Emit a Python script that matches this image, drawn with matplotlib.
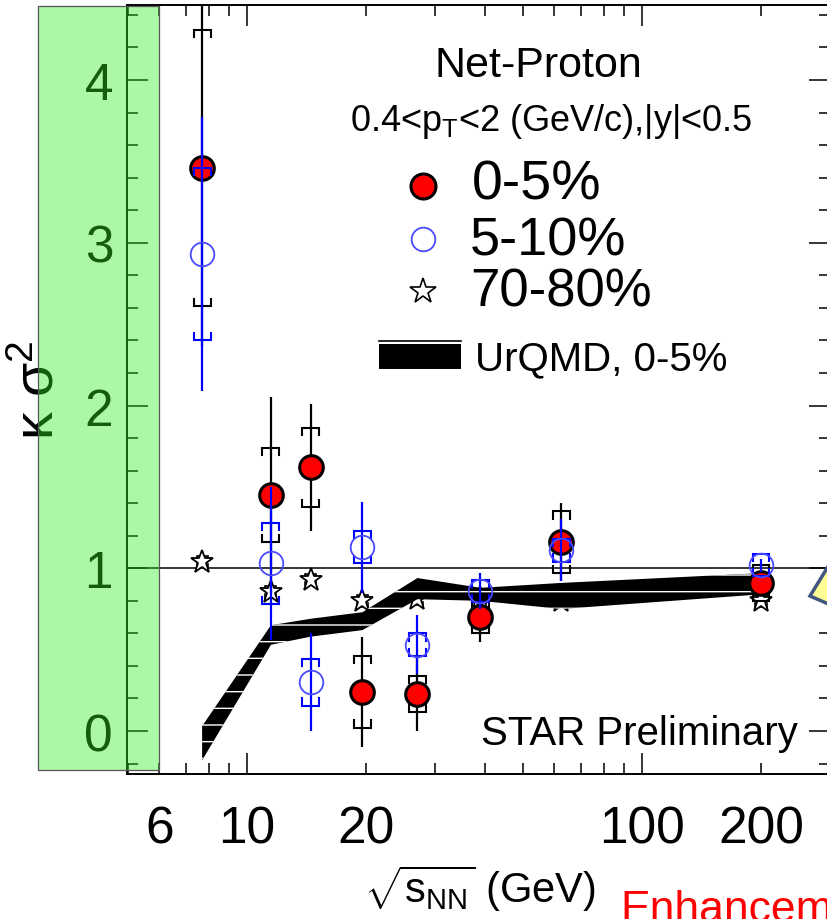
import numpy as np
import matplotlib
matplotlib.use("Agg")
import matplotlib.pyplot as plt
from matplotlib.ticker import FixedLocator, FuncFormatter, MultipleLocator
from matplotlib.patches import Rectangle, Polygon

plt.rcParams['font.family'] = ['Liberation Sans', 'DejaVu Sans']
plt.rcParams['mathtext.fontset'] = 'custom'
plt.rcParams['mathtext.rm'] = 'Liberation Sans'
plt.rcParams['mathtext.it'] = 'Liberation Sans:italic'
plt.rcParams['mathtext.bf'] = 'Liberation Sans:bold'
plt.rcParams['mathtext.sf'] = 'Liberation Sans'

# collision energies (GeV)
energy = [7.7, 11.5, 14.5, 19.6, 27, 39, 62.4, 200]

# 0-5% central
k_0_5 = [3.46, 1.45, 1.62, 0.24, 0.23, 0.70, 1.16, 0.91]
stat_0_5 = [1.10, 0.60, 0.39, 0.34, 0.23, 0.15, 0.24, 0.05]
sys_0_5 = [0.85, 0.29, 0.245, 0.22, 0.11, 0.10, 0.19, 0.11]

# 5-10%
k_5_10 = [2.93, 1.03, 0.30, 1.13, 0.53, 0.86, 1.11, 1.02]
stat_5_10 = [0.84, 0.47, 0.30, 0.28, 0.18, 0.11, 0.19, 0.04]
sys_5_10 = [0.53, 0.25, 0.145, 0.10, 0.07, 0.07, 0.07, 0.07]

# 70-80% peripheral
k_70_80 = [1.04, 0.855, 0.93, 0.80, 0.81, 0.82, 0.80, 0.80]
stat_70_80 = [0.03, 0.03, 0.03, 0.03, 0.03, 0.03, 0.03, 0.03]
sys_70_80 = [0.035, 0.035, 0.035, 0.035, 0.035, 0.035, 0.035, 0.035]

# UrQMD 0-5% band
urqmd_energy = [7.7, 11.5, 14.5, 19.6, 27, 39, 62.4, 200]
urqmd_low = [-0.18, 0.53, 0.58, 0.62, 0.81, 0.80, 0.75, 0.84]
urqmd_high = [0.03, 0.65, 0.69, 0.73, 0.94, 0.88, 0.91, 0.97]

x_ticks_major = [10, 100]
x_tick_labels = [6, 10, 20, 100, 200]


def brackets(ax, x, y, err, color, half=0.0215, leg=0.045, lw=1.5, z=4):
    # systematic error brackets: top one opens down, bottom one opens up
    xs, ys = [], []
    for xi, yi, ei in zip(x, y, err):
        xl, xr = xi * 10 ** (-half), xi * 10 ** half
        top, bot = yi + ei, yi - ei
        xs += [xl, xl, xr, xr, np.nan, xl, xl, xr, xr, np.nan]
        ys += [top - leg, top, top, top - leg, np.nan,
               bot + leg, bot, bot, bot + leg, np.nan]
    ax.plot(xs, ys, color=color, lw=lw, zorder=z, solid_joinstyle='miter')


fig = plt.figure(figsize=(8.27, 9.2), dpi=100)
ax = fig.add_axes([127 / 827, 1 - 775 / 920, 703 / 827, 769 / 920])

ax.set_xscale('log')
ax.set_xlim(4.97, 299)
ax.set_ylim(-0.264, 4.461)

ax.axhline(1, color='black', lw=1.1, zorder=1)

# 70-80%
ax.errorbar(energy, k_70_80, yerr=stat_70_80, fmt='none', ecolor='black',
            elinewidth=1.2, zorder=2)
brackets(ax, energy, k_70_80, sys_70_80, 'black', half=0.014, leg=0.02,
         lw=1.2, z=2)
ax.plot(energy, k_70_80, ls='none', marker='*', ms=17, mfc='white',
        mec='black', mew=1.3, zorder=2)

# UrQMD band
ax.fill_between(urqmd_energy, urqmd_low, urqmd_high, facecolor='black',
                edgecolor='white', hatch='-', linewidth=0, zorder=3)

# 0-5%
ax.errorbar(energy, k_0_5, yerr=stat_0_5, fmt='none', ecolor='black',
            elinewidth=1.6, zorder=4)
brackets(ax, energy, k_0_5, sys_0_5, 'black', z=4)
ax.plot(energy, k_0_5, ls='none', marker='o', ms=17, mfc='red',
        mec='black', mew=2.2, zorder=4)

# 5-10%
ax.errorbar(energy, k_5_10, yerr=stat_5_10, fmt='none', ecolor='blue',
            elinewidth=1.6, zorder=5)
brackets(ax, energy, k_5_10, sys_5_10, 'blue', z=5)
ax.plot(energy, k_5_10, ls='none', marker='o', ms=17, mfc='none',
        mec='#4a4aff', mew=1.3, zorder=5)

# axes, ticks
ax.xaxis.set_major_locator(FixedLocator(x_ticks_major))
ax.xaxis.set_minor_locator(FixedLocator(
    [5, 6, 7, 8, 9, 20, 30, 40, 50, 60, 70, 80, 90, 200, 300]))
ax.xaxis.set_major_formatter(FuncFormatter(lambda v, p: f'{v:g}'))
ax.xaxis.set_minor_formatter(FuncFormatter(
    lambda v, p: f'{v:g}' if round(v) in x_tick_labels else ''))
ax.yaxis.set_major_locator(MultipleLocator(1))
ax.yaxis.set_minor_locator(MultipleLocator(0.2))
ax.tick_params(which='both', direction='in', top=True, right=True,
               labelsize=37, width=1.1)
ax.tick_params(which='major', length=15)
ax.tick_params(which='minor', length=8)
ax.tick_params(axis='y', which='both', pad=10)
ax.tick_params(axis='x', which='both', pad=22)
for s in ax.spines.values():
    s.set_linewidth(1.4)

ax.text(-0.125, 0.50, r'κ σ$^{2}$', transform=ax.transAxes,
        rotation=90, ha='center', va='center', fontsize=40)
fig.text(480 / 827, 1 - 903 / 920, r'$\sqrt{\mathrm{s_{NN}}}$ (GeV)',
         ha='center', va='baseline', fontsize=30)

# legend block
def ax_xy(px, py):
    return (px - 127) / 703, (775 - py) / 769

ax.text(*ax_xy(538, 77), 'Net-Proton', transform=ax.transAxes,
        ha='center', va='baseline', fontsize=31)
ax.text(*ax_xy(350, 131), r'0.4<p$_{\mathrm{T}}$<2 (GeV/c),|y|<0.5',
        transform=ax.transAxes, ha='left', va='baseline', fontsize=26)
ax.plot(*ax_xy(423, 187), transform=ax.transAxes, marker='o', ms=18,
        mfc='red', mec='black', mew=2.2, clip_on=False)
ax.plot(*ax_xy(423, 240), transform=ax.transAxes, marker='o', ms=17,
        mfc='white', mec='#4a4aff', mew=1.3, clip_on=False)
ax.plot(*ax_xy(423, 292), transform=ax.transAxes, marker='*', ms=19,
        mfc='white', mec='black', mew=1.2, clip_on=False)
ax.text(*ax_xy(472, 200), '0-5%', transform=ax.transAxes,
        ha='left', va='baseline', fontsize=40)
ax.text(*ax_xy(470, 255), '5-10%', transform=ax.transAxes,
        ha='left', va='baseline', fontsize=39)
ax.text(*ax_xy(470, 307), '70-80%', transform=ax.transAxes,
        ha='left', va='baseline', fontsize=38)
x0, y0 = ax_xy(379, 370)
x1, y1 = ax_xy(461, 345)
ax.add_patch(Rectangle((x0, y0), x1 - x0, y1 - y0, transform=ax.transAxes,
                       facecolor='black', edgecolor='none', clip_on=False))
ax.plot([x0, x1], [ax_xy(0, 342)[1]] * 2, transform=ax.transAxes,
        color='black', lw=1.2, clip_on=False)
ax.text(*ax_xy(475, 370), 'UrQMD, 0-5%', transform=ax.transAxes,
        ha='left', va='baseline', fontsize=29)
ax.text(*ax_xy(798, 745), 'STAR Preliminary', transform=ax.transAxes,
        ha='right', va='baseline', fontsize=29)

# slide overlays: green box, yellow callout, red caption
ax.add_patch(Rectangle((38 / 827, 1 - 771 / 920), 121 / 827, 764 / 920,
                       transform=fig.transFigure, facecolor=(0.2, 0.92, 0.15),
                       alpha=0.4, edgecolor='none', zorder=10, clip_on=False))
ax.add_patch(Rectangle((38 / 827, 1 - 771 / 920), 121 / 827, 764 / 920,
                       transform=fig.transFigure, facecolor='none',
                       edgecolor='#555555', lw=0.9, zorder=11, clip_on=False))
ax.add_patch(Polygon([(810 / 827, 1 - 597 / 920), (840 / 827, 1 - 548 / 920),
                      (840 / 827, 1 - 610 / 920)], closed=True,
                     transform=fig.transFigure, facecolor='#ffff96',
                     edgecolor='#41567f', lw=2.5, zorder=12, clip_on=False))
fig.text(620 / 827, 1 - 922 / 920, 'Enhancement', color='red',
         ha='left', va='baseline', fontsize=32)

fig.savefig('out.png', dpi=100)
